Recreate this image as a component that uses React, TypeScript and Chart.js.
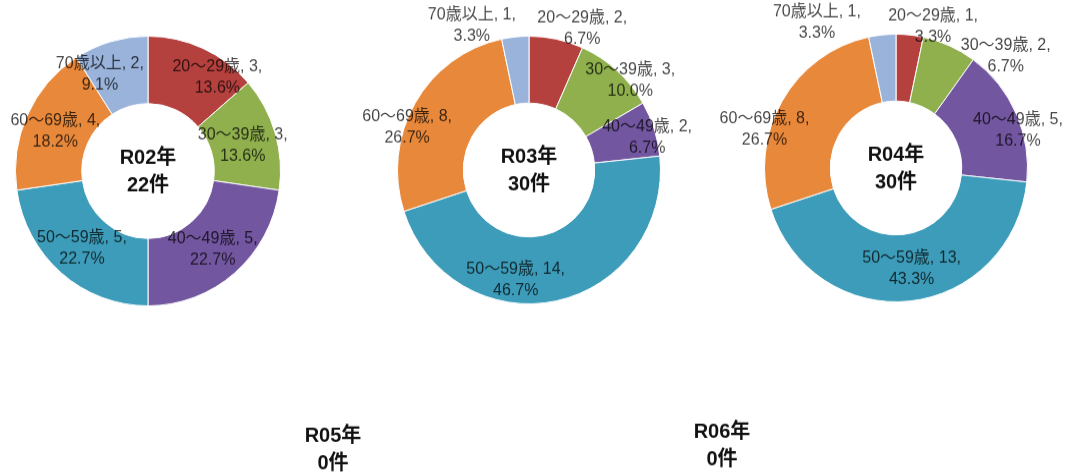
import React, { useEffect, useRef } from "react";
import { Chart, registerables } from "chart.js";

Chart.register(...registerables);

// ---- data ----
const ageGroups = ["20〜29歳", "30〜39歳", "40〜49歳", "50〜59歳", "60〜69歳", "70歳以上"];
const yearLabels = ["R02年", "R03年", "R04年", "R05年", "R06年"];
const countsR02 = [3, 3, 5, 5, 4, 2];
const countsR03 = [2, 3, 2, 14, 8, 1];
const countsR04 = [1, 2, 5, 13, 8, 1];
const countsR05 = [0, 0, 0, 0, 0, 0];
const countsR06 = [0, 0, 0, 0, 0, 0];

// ---- styles / layout ----
const sliceColors = ["#B5413E", "#8FB04D", "#7356A0", "#3D9CB9", "#E8883B", "#9AB3DB"];
const FONT = '"Liberation Sans", "Noto Sans CJK JP", sans-serif';

// label placement: [angle clockwise from top in degrees, radius as fraction of outer radius]
const placeR02 = [[37, 0.87], [75, 0.74], [140, 0.76], [221, 0.76], [293, 0.76], [333, 0.8]];
const placeR03 = [[21, 1.13], [49, 1.02], [75, 0.93], [187, 0.83], [289, 0.98], [338, 1.16]];
const placeR04 = [[15, 1.09], [45, 1.18], [73, 0.97], [171, 0.76], [286, 1.04], [331, 1.24]];

type Spec = {
  year: string;
  counts: number[];
  place: number[][] | null;
  cx: number;
  cy: number;
  radius: number;
};

const specs: Spec[] = [
  { year: yearLabels[0], counts: countsR02, place: placeR02, cx: 148, cy: 171, radius: 133 },
  { year: yearLabels[1], counts: countsR03, place: placeR03, cx: 529, cy: 170, radius: 132 },
  { year: yearLabels[2], counts: countsR04, place: placeR04, cx: 896, cy: 168, radius: 132 },
  { year: yearLabels[3], counts: countsR05, place: null, cx: 333, cy: 449, radius: 132 },
  { year: yearLabels[4], counts: countsR06, place: null, cx: 722, cy: 445, radius: 132 },
];

const BOX_W = 380;
const BOX_H = 340;
const STRETCH_Y = 1.02;

function DonutChart({ spec }: { spec: Spec }) {
  const ref = useRef<HTMLCanvasElement | null>(null);
  useEffect(() => {
    if (!ref.current) return;
    const total = spec.counts.reduce((a, b) => a + b, 0);
    const padX = BOX_W / 2 - spec.radius;
    const padY = BOX_H / 2 - spec.radius;

    const textPlugin = {
      id: "donutText",
      afterDatasetsDraw(chart: any) {
        const ctx = chart.ctx;
        const area = chart.chartArea;
        const cx = (area.left + area.right) / 2;
        const cy = (area.top + area.bottom) / 2;
        ctx.save();
        // center text
        ctx.fillStyle = "#111";
        ctx.font = `bold 20px ${FONT}`;
        ctx.textAlign = "center";
        ctx.textBaseline = "middle";
        ctx.fillText(spec.year, cx, cy - 13);
        ctx.fillText(`${total}件`, cx, cy + 14);

        // slice labels
        if (spec.place && total > 0) {
          const meta = chart.getDatasetMeta(0);
          ctx.font = `16px ${FONT}`;
          ctx.fillStyle = "rgba(0,0,0,0.74)";
          meta.data.forEach((arc: any, i: number) => {
            const v = spec.counts[i];
            if (!v) return;
            const p = spec.place![i];
            const ang = ((p[0] - 90) * Math.PI) / 180;
            const r = arc.outerRadius * p[1];
            const x = arc.x + r * Math.cos(ang);
            const y = arc.y + r * Math.sin(ang);
            const pct = ((v / total) * 100).toFixed(1) + "%";
            ctx.fillText(`${ageGroups[i]}, ${v},`, x, y - 10.5);
            ctx.fillText(pct, x, y + 10.5);
          });
        }
        ctx.restore();
      },
    };

    const chart = new Chart(ref.current, {
      type: "doughnut",
      data: {
        labels: ageGroups,
        datasets: [
          {
            data: spec.counts,
            backgroundColor: sliceColors,
            borderColor: "#ffffff",
            borderWidth: 1,
          },
        ],
      },
      options: {
        responsive: false,
        animation: false,
        cutout: "50%",
        layout: { padding: { left: padX, right: padX, top: padY, bottom: padY } },
        plugins: {
          legend: { display: false },
          tooltip: { enabled: false },
        },
      },
      plugins: [textPlugin],
    });
    return () => chart.destroy();
  }, [spec]);

  const shownH = BOX_H * STRETCH_Y;
  return (
    <canvas
      ref={ref}
      width={BOX_W}
      height={BOX_H}
      style={{
        position: "absolute",
        left: spec.cx - BOX_W / 2,
        top: spec.cy - shownH / 2,
        width: BOX_W,
        height: shownH,
      }}
    />
  );
}

export default function App() {
  return (
    <div
      style={{
        position: "absolute",
        left: 0,
        top: 0,
        width: 1071,
        height: 475,
        overflow: "hidden",
        background: "#ffffff",
      }}
    >
      {specs.map((s) => (
        <DonutChart key={s.year} spec={s} />
      ))}
    </div>
  );
}
